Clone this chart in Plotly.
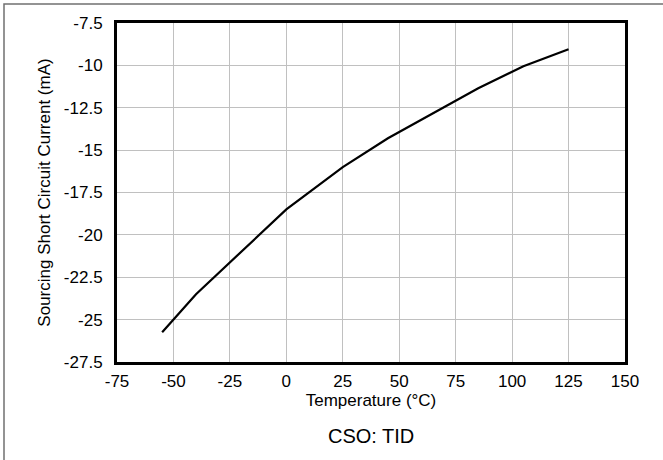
import plotly.graph_objects as go

temperature = [-55, -40, 0, 25, 45, 85, 105, 125]
current_ma = [-25.75, -23.5, -18.5, -16.0, -14.3, -11.35, -10.05, -9.05]

x_ticks = [-75, -50, -25, 0, 25, 50, 75, 100, 125, 150]
y_ticks = [-7.5, -10, -12.5, -15, -17.5, -20, -22.5, -25, -27.5]
y_tick_labels = ["-7.5", "-10", "-12.5", "-15", "-17.5", "-20", "-22.5", "-25", "-27.5"]

W, H = 663, 460
L, R, T, B = 117, 38, 23, 98

fig = go.Figure()
fig.add_trace(go.Scatter(x=temperature, y=current_ma, mode="lines",
                         line=dict(color="black", width=2.2), showlegend=False))

fam = "Liberation Sans, Arial, sans-serif"
font = dict(family=fam, size=17, color="black")

fig.update_layout(
    width=W, height=H,
    margin=dict(l=L, r=R, t=T, b=B),
    paper_bgcolor="white", plot_bgcolor="white",
    font=font,
    xaxis=dict(range=[-75, 150], tickmode="array", tickvals=x_ticks,
               ticktext=[str(v) for v in x_ticks],
               showgrid=True, gridcolor="#c0c0c0", gridwidth=1,
               showline=True, linecolor="black", linewidth=3, mirror=True,
               zeroline=False, ticks="", ticklabelstandoff=2,
               title=dict(text="Temperature (°C)", font=font, standoff=0)),
    yaxis=dict(range=[-27.5, -7.5], tickmode="array", tickvals=y_ticks,
               ticktext=y_tick_labels,
               showgrid=True, gridcolor="#c0c0c0", gridwidth=1,
               showline=True, linecolor="black", linewidth=3, mirror=True,
               zeroline=False, ticks="", ticklabelstandoff=8,
               title=dict(text="Sourcing Short Circuit Current (mA)", font=font, standoff=9)),
    annotations=[dict(text="CSO: TID", xref="paper", yref="paper",
                      x=0.5, y=(H - B - 436) / (H - T - B), xanchor="center", yanchor="middle",
                      showarrow=False, font=dict(family=fam, size=20, color="black"))],
    shapes=[dict(type="rect", xref="paper", yref="paper",
                 x0=(4 - L) / (W - L - R), x1=(W + 50 - L) / (W - L - R),
                 y0=(H - B - (H + 50)) / (H - T - B), y1=(H - B - 4) / (H - T - B),
                 line=dict(color="#707070", width=1.5), layer="below")],
)

fig.write_html("out.html")
